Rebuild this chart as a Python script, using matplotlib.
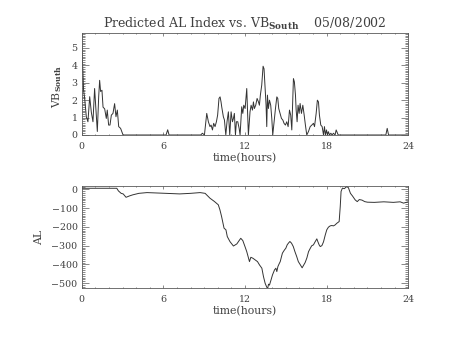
import matplotlib
matplotlib.use('Agg')
import matplotlib.pyplot as plt
from matplotlib.ticker import MultipleLocator

# VB_South (hours, value)
vb_hours = [0.0, 0.06, 0.14, 0.22, 0.34, 0.46, 0.59, 0.71, 0.83, 0.95, 1.08, 1.15, 1.25, 1.32,
            1.39, 1.49, 1.57, 1.69, 1.81, 1.88, 1.98, 2.08, 2.18, 2.30, 2.42, 2.52, 2.62, 2.72,
            2.86, 3.04, 6.2, 6.32, 6.42, 8.75, 8.87, 9.02, 9.19, 9.31, 9.43, 9.51, 9.61, 9.70,
            9.80, 9.90, 9.99, 10.09, 10.17, 10.24, 10.29, 10.41, 10.49, 10.59, 10.68, 10.78,
            10.88, 10.98, 11.08, 11.15, 11.22, 11.30, 11.37, 11.47, 11.57, 11.64, 11.76, 11.84,
            11.91, 12.01, 12.13, 12.20, 12.25, 12.37, 12.45, 12.55, 12.62, 12.69, 12.79, 12.89,
            12.99, 13.06, 13.13, 13.23, 13.33, 13.40, 13.48, 13.55, 13.60, 13.65, 13.72, 13.80,
            13.89, 13.97, 14.04, 14.14, 14.24, 14.34, 14.41, 14.48, 14.58, 14.68, 14.78, 14.87,
            14.97, 15.07, 15.17, 15.27, 15.36, 15.44, 15.49, 15.56, 15.63, 15.71, 15.76, 15.83,
            15.90, 15.98, 16.05, 16.15, 16.25, 16.35, 16.44, 16.54, 16.66, 16.79, 16.91, 17.03,
            17.11, 17.23, 17.32, 17.40, 17.47, 17.57, 17.67, 17.77, 17.84, 17.91, 17.99, 18.06,
            18.13, 18.21, 18.31, 18.40, 18.50, 18.62, 18.70, 18.85, 22.35, 22.45, 22.55, 24.0]
vb_south = [5.8, 4.2, 2.57, 2.1, 1.05, 0.76, 2.2, 1.3, 0.76, 2.67, 1.05, 0.2, 2.2, 3.14,
            2.5, 2.57, 1.6, 1.5, 0.95, 1.43, 0.57, 0.57, 1.14, 1.24, 1.8, 1.05, 1.43, 0.48,
            0.38, 0.0, 0.0, 0.3, 0.0, 0.0, 0.1, 0.0, 1.24, 0.76, 0.48, 0.57, 0.29, 0.67,
            0.48, 0.76, 1.14, 2.1, 2.19, 1.9, 1.62, 1.05, 0.86, 0.0, 0.76, 1.33,
            0.0, 1.33, 0.76, 0.95, 1.24, 0.0, 0.76, 0.76, 0.38, 0.0, 1.62, 1.24,
            1.71, 1.52, 2.67, 1.05, 0.0, 1.33, 1.71, 1.43, 1.9, 1.52, 1.71, 2.1,
            1.9, 1.71, 2.29, 2.86, 3.95, 3.8, 2.67, 1.7, 0.48, 2.29, 1.52, 2.0,
            1.71, 0.95, 0.0, 0.76, 1.52, 2.19, 2.1, 1.52, 1.24, 0.95, 0.86, 0.67,
            0.57, 0.76, 0.48, 1.43, 1.14, 0.29, 1.52, 3.24, 3.05, 2.29, 1.43, 0.76,
            1.71, 1.24, 1.81, 1.24, 1.71, 1.14, 0.57, 0.0, 0.19, 0.48, 0.57, 0.67,
            0.48, 1.24, 2.0, 1.9, 1.14, 0.57, 0.48, 0.0, 0.48, 0.0, 0.29, 0.0,
            0.19, 0.0, 0.1, 0.0, 0.1, 0.0, 0.29, 0.0, 0.0, 0.38, 0.0, 0.0]

# AL index (hours, nT)
al_hours = [0.0, 2.58, 2.7, 2.9, 3.05, 3.26, 3.5, 3.75, 4.2, 4.8, 5.5, 6.2, 7.2, 8.0, 8.7,
            9.07, 9.43, 9.75, 10.04, 10.16, 10.28, 10.46, 10.6, 10.7, 10.9, 11.15, 11.4,
            11.6, 11.69, 11.84, 12.0, 12.13, 12.33, 12.43, 12.58, 12.75, 12.92, 13.07, 13.24,
            13.36, 13.48, 13.6, 13.67, 13.73, 13.8, 13.92, 14.02, 14.17, 14.27, 14.34, 14.42,
            14.52, 14.59, 14.66, 14.75, 14.9, 15.0, 15.1, 15.19, 15.3, 15.42, 15.55, 15.67,
            15.8, 15.92, 16.05, 16.2, 16.3, 16.42, 16.55, 16.67, 16.8, 16.9, 17.03, 17.15,
            17.28, 17.35, 17.45, 17.53, 17.65, 17.77, 17.9, 18.01, 18.13, 18.26, 18.38, 18.5,
            18.62, 18.75, 18.92, 19.0, 19.06, 19.16, 19.3, 19.48, 19.6, 19.75, 19.9, 20.1,
            20.25, 20.4, 20.6, 20.8, 21.0, 21.5, 22.2, 22.9, 23.4, 23.65, 23.85, 24.0]
al_index = [5, 5, -9, -22, -25, -43, -36, -30, -22, -18, -20, -22, -25, -22, -18,
            -22, -48, -65, -83, -110, -145, -207, -216, -252, -279, -302, -291,
            -270, -261, -273, -305, -332, -385, -362, -367, -376, -385, -403, -420,
            -465, -500, -521, -527, -505, -510, -481, -456, -429, -420, -438, -411,
            -395, -385, -365, -340, -323, -314, -296, -287, -278, -287, -305, -332,
            -358, -385, -400, -418, -405, -390, -365, -332, -314, -301, -296, -280,
            -264, -278, -296, -305, -300, -280, -243, -216, -202, -195, -193, -195,
            -190, -181, -172, -92, -12, 6, 3, 14, 8, -22, -36, -57,
            -66, -55, -58, -66, -69, -70, -67, -70, -67, -74, -70, -67]

x_ticks = [0, 6, 12, 18, 24]

plt.rcParams['font.family'] = 'DejaVu Serif'
plt.rcParams['mathtext.fontset'] = 'dejavuserif'
plt.rcParams['text.color'] = '0.25'
plt.rcParams['axes.labelcolor'] = '0.25'
plt.rcParams['xtick.labelcolor'] = '0.25'
plt.rcParams['ytick.labelcolor'] = '0.25'

fig = plt.figure(figsize=(4.53, 3.4), dpi=100)
ax1 = fig.add_axes([0.1803, 0.603, 0.721, 0.2985])
ax2 = fig.add_axes([0.1803, 0.152, 0.721, 0.3009])

line_col = '0.2'
ax1.plot(vb_hours, vb_south, color=line_col, lw=0.7)
ax2.plot(al_hours, al_index, color=line_col, lw=0.7)

ax1.set_ylim(0, 5.83)
ax2.set_ylim(-527, 17)
ax1.yaxis.set_major_locator(MultipleLocator(1))
ax1.yaxis.set_minor_locator(MultipleLocator(0.1))
ax2.yaxis.set_major_locator(MultipleLocator(100))
ax2.yaxis.set_minor_locator(MultipleLocator(10))

for ax in (ax1, ax2):
    ax.set_xlim(0, 24)
    ax.set_xticks(x_ticks)
    ax.xaxis.set_minor_locator(MultipleLocator(1))
    ax.tick_params(which='both', direction='in', top=True, right=True,
                   labelsize=6.8, color='0.35', width=0.5)
    ax.tick_params(axis='x', which='major', length=2.0, pad=5)
    ax.tick_params(axis='x', which='minor', length=1.0)
    ax.tick_params(axis='y', which='major', length=4.7, pad=3)
    ax.tick_params(axis='y', which='minor', length=2.4)
    for s in ax.spines.values():
        s.set_color('0.35')
        s.set_linewidth(0.6)
    ax.set_xlabel('time(hours)', fontsize=7.8, labelpad=1.5)

ax1.set_ylabel(r'VB$_{\mathbf{South}}$', fontsize=7.8)
ax1.yaxis.set_label_coords(-0.054, 0.48)
ax2.set_ylabel('AL', fontsize=7.8)
ax2.yaxis.set_label_coords(-0.114, 0.5)

fig.text(245 / 453, 1 - 28 / 340,
         r'Predicted AL Index vs. VB$_{\mathbf{South}}$    05/08/2002',
         ha='center', va='baseline', fontsize=9)

fig.savefig('out.png', dpi=100)
